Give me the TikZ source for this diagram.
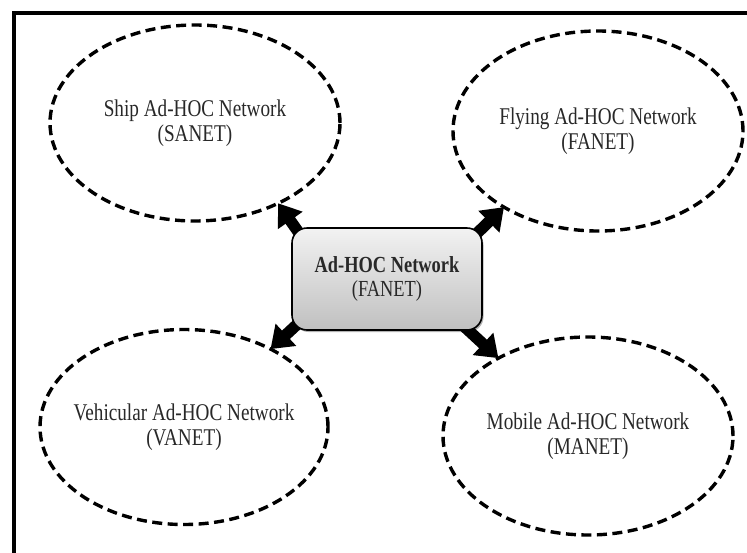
\documentclass[tikz,border=0pt]{standalone}
\usepackage{fontspec}
\setmainfont{Liberation Serif}[FakeStretch=0.8]
\usetikzlibrary{shapes.geometric,arrows.meta,backgrounds,shadows}

\definecolor{boxtop}{RGB}{242,242,242}
\definecolor{boxbottom}{RGB}{192,192,192}
\definecolor{txt}{RGB}{40,40,40}

\tikzset{
  netellipse/.style={draw, ellipse, dash pattern=on 10pt off 5.5pt,
    line width=3.4pt, inner sep=0pt, outer sep=0pt},
  nettext/.style={align=center, text=txt,
    font=\fontsize{24}{25.5}\selectfont},
  hubbox/.style={draw, line width=1.6pt, rounded corners=15pt,
    top color=boxtop, bottom color=boxbottom,
    minimum width=190pt, minimum height=102pt, inner sep=0pt, outer sep=0pt,
    align=center, text=txt, font=\fontsize{23}{23.5}\selectfont,
    drop shadow={shadow xshift=1.5pt, shadow yshift=-2pt, opacity=0.3, fill=black}},
  bigarrow/.style={line width=11.5pt, -{Triangle[width=29pt,length=21pt]}},
  frame/.style={draw, line width=4pt}
}

\begin{document}
\begin{tikzpicture}[x=1pt, y=-1pt]
  \useasboundingbox (0,0) rectangle (747,552);
  \clip (0,0) rectangle (747,552);

  % outer frame
  \draw[frame] (14,13) rectangle (775,585);

  % the four network families
  \node[netellipse, minimum width=290pt, minimum height=196pt] (sanet) at (195,123) {};
  \node[netellipse, minimum width=290pt, minimum height=200pt] (fanet) at (598,131) {};
  \node[netellipse, minimum width=288pt, minimum height=195pt] (vanet) at (184,427) {};
  \node[netellipse, minimum width=290pt, minimum height=198pt] (manet) at (588,436) {};

  \node[nettext] (sanettext) at (sanet.center) {Ship Ad-HOC Network\\(SANET)};
  \node[nettext] (fanettext) at (fanet.center) {Flying Ad-HOC Network\\(FANET)};
  \node[nettext] (vanettext) at (vanet.center) {Vehicular Ad-HOC Network\\(VANET)};
  \node[nettext] (manettext) at (manet.center) {Mobile Ad-HOC Network\\(MANET)};

  % central hub
  \node[hubbox] (hub) at (387,279) {\textbf{Ad-HOC Network}\\(FANET)};

  % arrow roots hidden behind the hub
  \coordinate (nwroot) at ([shift={(12,12)}]hub.north west);
  \coordinate (neroot) at ([shift={(-12,12)}]hub.north east);
  \coordinate (swroot) at ([shift={(12,-12)}]hub.south west);
  \coordinate (seroot) at ([shift={(-27,-12)}]hub.south east);

  \begin{pgfonlayer}{background}
    \fill[white] (0,0) rectangle (747,552);
    \draw[bigarrow] (nwroot) -- (sanet.-44);
    \draw[bigarrow] (neroot) -- (fanet.-141);
    \draw[bigarrow] (swroot) -- (vanet.42);
    \draw[bigarrow] (seroot) -- (manet.139);
  \end{pgfonlayer}
\end{tikzpicture}
\end{document}
